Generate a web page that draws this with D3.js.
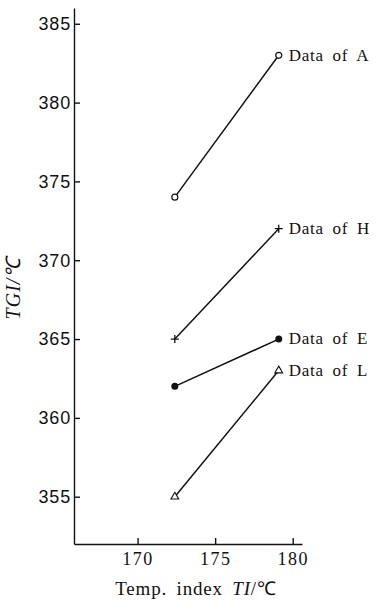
<!DOCTYPE html>
<html>
<head>
<meta charset="utf-8">
<script src="https://cdn.jsdelivr.net/npm/d3@7"></script>
<style>
	body { margin: 0; background: #fff; }
	svg { display: block; }
	.ylab text { font-family: "Liberation Sans", Arial, sans-serif; font-size: 18px; letter-spacing: 0.8px; }
	.xlab text { font-family: "Liberation Serif", serif; font-size: 18px; letter-spacing: 1.5px; }
	text.series { font-family: "Liberation Serif", serif; font-size: 17px; letter-spacing: 0.7px; word-spacing: 4px; }
</style>
</head>
<body>
<svg id="chart"></svg>
<script>
	const seriesNames = ['A', 'H', 'E', 'L'];
	const tempIndex = [172.4, 179.1];
	const tgiA = [374, 383];
	const tgiH = [365, 372];
	const tgiE = [362, 365];
	const tgiL = [355, 363];
	const markers = ['circle', 'plus', 'dot', 'triangle'];
	const xTicks = [170, 175, 180];
	const yTicks = [355, 360, 365, 370, 375, 380, 385];

	const width = 384;
	const height = 604;

	const svg = d3.select('#chart')
		.attr('width', width)
		.attr('height', height);

	const xScale = d3.scaleLinear().domain([165.9, 180.6]).range([74, 302]);
	const yScale = d3.scaleLinear().domain([352, 386]).range([544, 8]);

	const xAxis = d3.axisBottom(xScale).tickValues(xTicks).tickSizeInner(-6).tickSizeOuter(0).tickPadding(8);
	const yAxis = d3.axisLeft(yScale).tickValues(yTicks).tickSizeInner(-6).tickSizeOuter(0).tickPadding(3);

	svg.append('g')
		.attr('class', 'xlab')
		.attr('transform', `translate(0, ${yScale.range()[0]})`)
		.call(xAxis);

	svg.append('g')
		.attr('class', 'ylab')
		.attr('transform', `translate(${xScale.range()[0]}, 0)`)
		.call(yAxis);

	svg.selectAll('.domain, .tick line').attr('stroke', '#111').attr('stroke-width', 1.4);
	svg.selectAll('.tick text').attr('fill', '#111');

	const series = [tgiA, tgiH, tgiE, tgiL];

	const line = d3.line()
		.x((d, i) => xScale(tempIndex[i]))
		.y(d => yScale(d));

	series.forEach((vals, s) => {
		const g = svg.append('g');
		g.append('path')
			.attr('d', line(vals))
			.attr('fill', 'none')
			.attr('stroke', '#111')
			.attr('stroke-width', 1.5);

		vals.forEach((v, i) => {
			const cx = xScale(tempIndex[i]);
			const cy = yScale(v);
			const m = markers[s];
			if (m === 'circle') {
				g.append('circle').attr('cx', cx).attr('cy', cy).attr('r', 3)
					.attr('fill', '#fff').attr('stroke', '#111').attr('stroke-width', 1.2);
			} else if (m === 'dot') {
				g.append('circle').attr('cx', cx).attr('cy', cy).attr('r', 3.5).attr('fill', '#111');
			} else if (m === 'plus') {
				g.append('path').attr('d', `M${cx - 4},${cy}H${cx + 4}M${cx},${cy - 4}V${cy + 4}`)
					.attr('stroke', '#111').attr('stroke-width', 1.3);
			} else {
				g.append('path').attr('d', d3.symbol(d3.symbolTriangle, 26)())
					.attr('transform', `translate(${cx},${cy})`)
					.attr('fill', '#fff').attr('stroke', '#111').attr('stroke-width', 1.1);
			}
		});

		g.append('text')
			.attr('class', 'series')
			.attr('x', xScale(tempIndex[1]) + 10)
			.attr('y', yScale(vals[1]))
			.attr('dy', '0.32em')
			.attr('fill', '#111')
			.text('Data of ' + seriesNames[s]);
	});

	svg.append('text')
		.attr('transform', `translate(20, 288) rotate(-90)`)
		.attr('text-anchor', 'middle')
		.attr('font-family', '"Liberation Serif", serif')
		.attr('font-size', 20)
		.attr('font-style', 'italic')
		.attr('letter-spacing', 1)
		.attr('fill', '#111')
		.text('TGI/℃');

	const xl = svg.append('text')
		.attr('x', 196)
		.attr('y', 595)
		.attr('text-anchor', 'middle')
		.attr('font-family', '"Liberation Serif", serif')
		.attr('font-size', 19)
		.attr('letter-spacing', 0.8)
		.attr('word-spacing', 4)
		.attr('fill', '#111');
	xl.append('tspan').text('Temp. index ');
	xl.append('tspan').attr('font-style', 'italic').text('TI');
	xl.append('tspan').text('/℃');
</script>
</body>
</html>
